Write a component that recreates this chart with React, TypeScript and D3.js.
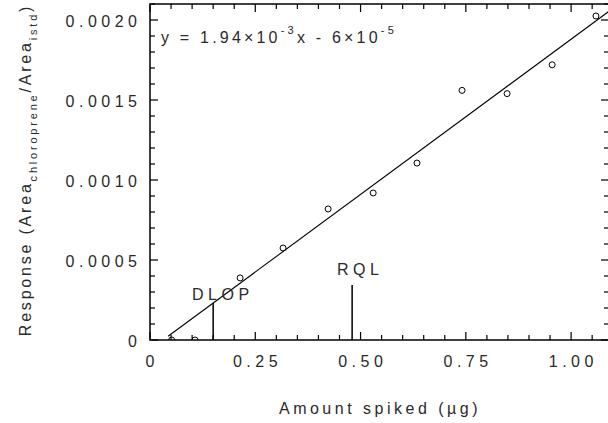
import React from "react";
import * as d3 from "d3";

const amountSpiked = [0.0515, 0.107, 0.214, 0.316, 0.423, 0.530, 0.634, 0.741, 0.848, 0.955, 1.059];
const response = [0.0, 0.0, 0.000388, 0.000575, 0.000819, 0.000919, 0.001106, 0.00156, 0.00154, 0.00172, 0.002025];
const xTickValues = [0, 0.25, 0.5, 0.75, 1.0];
const xTickLabels = ["0", "0.25", "0.50", "0.75", "1.00"];
const yTickValues = [0, 0.0005, 0.001, 0.0015, 0.002];
const yTickLabels = ["0", "0.0005", "0.0010", "0.0015", "0.0020"];
const slope = 1.94e-3;
const intercept = -6e-5;
const fitRange = [0.043, 1.09];
const markers = [
  { label: "DLOP", x: 0.15, top: null as number | null },
  { label: "RQL", x: 0.48, top: 0.000344 },
];

const W = 608;
const H = 423;
const L = 150, R = 609, T = 4, B = 340;
const FONT = "'Liberation Sans', Arial, sans-serif";
const TXT = "#2a2a2a";

export default function App() {
  const x = d3.scaleLinear().domain([0, 1.09]).range([L, R]);
  const y = d3.scaleLinear().domain([0, 0.0021]).range([B, T]);
  const xMinor = d3.range(0, 1.0901, 0.05);
  const yMinor = d3.range(0, 0.00211, 0.0001);
  const fit = d3.line<number>().x((d) => x(d)).y((d) => y(slope * d + intercept));
  const tickLS = 4.5;

  return (
    <svg width={W} height={H} style={{ position: "absolute", left: 0, top: 0, background: "#fff" }}>
      <defs>
        <clipPath id="plot">
          <rect x={L} y={T} width={R - L} height={B - T} />
        </clipPath>
      </defs>
      {/* minor + major ticks */}
      <g stroke="#000" strokeWidth={1.2}>
        {xMinor.map((v, i) => {
          const major = xTickValues.some((t) => Math.abs(t - v) < 1e-9);
          const len = major ? 8 : 5;
          return (
            <g key={"xm" + i}>
              <line x1={x(v)} x2={x(v)} y1={B} y2={B - len} />
              <line x1={x(v)} x2={x(v)} y1={T} y2={T + len} />
            </g>
          );
        })}
        {yMinor.map((v, i) => {
          const major = yTickValues.some((t) => Math.abs(t - v) < 1e-12);
          const len = major ? 8 : 5;
          return (
            <g key={"ym" + i}>
              <line x1={L} x2={L + len} y1={y(v)} y2={y(v)} />
              <line x1={R} x2={R - len} y1={y(v)} y2={y(v)} />
            </g>
          );
        })}
      </g>
      {/* frame */}
      <rect x={L} y={T} width={R - L} height={B - T} fill="none" stroke="#000" strokeWidth={1.5} />

      {/* fit line */}
      <path d={fit(fitRange) || ""} fill="none" stroke="#000" strokeWidth={1.1} />

      {/* points */}
      <g clipPath="url(#plot)">
        {amountSpiked.map((v, i) => (
          <circle key={i} cx={x(v)} cy={y(response[i])} r={3} fill="none" stroke="#000" strokeWidth={1} />
        ))}
      </g>

      {/* DLOP / RQL markers */}
      {markers.map((m) => {
        const top = m.top === null ? slope * m.x + intercept : m.top;
        return (
          <line key={m.label} x1={x(m.x)} x2={x(m.x)} y1={B} y2={y(top)} stroke="#000" strokeWidth={1.5} />
        );
      })}
      <text x={192} y={300} fontFamily={FONT} fontSize={16} letterSpacing={4.5} fill={TXT}>DLOP</text>
      <text x={337} y={275} fontFamily={FONT} fontSize={16} letterSpacing={4.5} fill={TXT}>RQL</text>

      {/* tick labels */}
      {xTickValues.map((v, i) => (
        <text key={"xl" + i} x={x(v)} dx={tickLS / 2} y={367} textAnchor="middle" fontFamily={FONT} fontSize={16}
          letterSpacing={tickLS} fill={TXT}>
          {xTickLabels[i]}
        </text>
      ))}
      {yTickValues.map((v, i) => (
        <text key={"yl" + i} x={137 + tickLS} y={y(v) + 7} textAnchor="end" fontFamily={FONT} fontSize={16}
          letterSpacing={tickLS} fill={TXT}>
          {yTickLabels[i]}
        </text>
      ))}

      {/* equation */}
      <text x={161} y={43} fontFamily={FONT} fontSize={16} letterSpacing={3.2} fill={TXT}>
        y = 1.94×10<tspan fontSize={11} dy={-9}>-3</tspan>
        <tspan dy={9}>x - 6×10</tspan>
        <tspan fontSize={11} dy={-9}>-5</tspan>
      </text>

      {/* axis titles */}
      <text x={380} y={414} textAnchor="middle" fontFamily={FONT} fontSize={16} letterSpacing={3.5} fill={TXT}>
        Amount spiked (µg)
      </text>
      <text transform="translate(31,170) rotate(-90)" textAnchor="middle" fontFamily={FONT} fontSize={16}
        letterSpacing={2.8} fill={TXT}>
        Response (Area<tspan fontSize={11} dy={6}>chloroprene</tspan>
        <tspan dy={-6}>/Area</tspan>
        <tspan fontSize={11} dy={6}>istd</tspan>
        <tspan dy={-6}>)</tspan>
      </text>
    </svg>
  );
}
